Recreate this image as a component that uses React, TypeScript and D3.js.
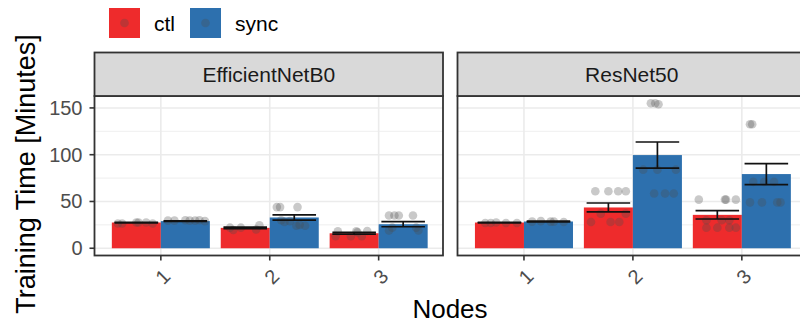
import React, { useEffect, useRef } from 'react';
import * as d3 from 'd3';

// categories
const nodes = ['1', '2', '3'];
const groups = ['ctl', 'sync'];
const panels = ['EfficientNetB0', 'ResNet50'];
const yTicks = [0, 50, 100, 150];
const yMinor = [25, 75, 125];

// bar means (minutes), per panel, per node
const effCtlMean = [27.5, 21.8, 16.0];
const effSyncMean = [29.0, 32.9, 25.7];
const resCtlMean = [27.5, 43.6, 35.7];
const resSyncMean = [28.6, 99.6, 79.3];

// standard errors
const effCtlSe = [0.3, 0.8, 0.9];
const effSyncSe = [0.4, 2.85, 2.7];
const resCtlSe = [0.3, 4.75, 4.45];
const resSyncSe = [0.4, 14.0, 11.2];

// individual runs: [node, minutes, jitter (fraction of band)]
type Pt = [string, number, number];
const effCtlPts: Pt[] = [
  ['1', 26.5, -0.17], ['1', 26.5, -0.13], ['1', 27.5, 0.0], ['1', 27.5, 0.02], ['1', 27.5, 0.09], ['1', 26.5, 0.15],
  ['2', 22, -0.14], ['2', 19.5, -0.11], ['2', 22, -0.04], ['2', 20, 0.1], ['2', 24.5, 0.13],
  ['3', 18, -0.15], ['3', 18, 0.02], ['3', 18.5, 0.12], ['3', 13, -0.17], ['3', 13, -0.03], ['3', 13, 0.07], ['3', 17, 0.03],
];
const effSyncPts: Pt[] = [
  ['1', 29.5, -0.16], ['1', 29.5, -0.1], ['1', 30, 0.0], ['1', 29.5, 0.04], ['1', 29.5, 0.09], ['1', 30, 0.13], ['1', 29, 0.18],
  ['2', 44, -0.16], ['2', 44, -0.13], ['2', 44, 0.03], ['2', 30, -0.12], ['2', 24, 0.02], ['2', 24, 0.1], ['2', 29, -0.04], ['2', 25, 0.05], ['2', 28, -0.09],
  ['3', 35, -0.13], ['3', 35, -0.08], ['3', 35, -0.04], ['3', 35, 0.09], ['3', 19, -0.13], ['3', 19, 0.14], ['3', 22, 0.12], ['3', 22, -0.1],
];
const resCtlPts: Pt[] = [
  ['1', 27, -0.13], ['1', 27, -0.08], ['1', 27, 0.06], ['1', 27, 0.16], ['1', 27.5, -0.03],
  ['2', 61, -0.12], ['2', 61, 0.0], ['2', 61, 0.09], ['2', 61, 0.16], ['2', 37, -0.07], ['2', 37, 0.16], ['2', 28, -0.16], ['2', 28, 0.02], ['2', 28, 0.1],
  ['3', 52, -0.17], ['3', 52, 0.07], ['3', 52, 0.08], ['3', 52, 0.17], ['3', 30, -0.1], ['3', 30, 0.04], ['3', 30, 0.11],
  ['3', 22, -0.1], ['3', 22, 0.0], ['3', 22, 0.11], ['3', 22, 0.17],
];
const resSyncPts: Pt[] = [
  ['1', 28.5, -0.15], ['1', 29, -0.07], ['1', 28.5, 0.02], ['1', 28.5, 0.05], ['1', 28, 0.14],
  ['2', 155, -0.06], ['2', 155, -0.02], ['2', 154, 0.01], ['2', 84, -0.13], ['2', 84, 0.0], ['2', 84, 0.17],
  ['2', 58.5, -0.03], ['2', 58.5, 0.07], ['2', 58.5, 0.15],
  ['3', 132.5, -0.15], ['3', 132.5, -0.13], ['3', 71, -0.12], ['3', 71, -0.02], ['3', 71, 0.07],
  ['3', 49, -0.15], ['3', 49, -0.04], ['3', 49, 0.1], ['3', 49, 0.13],
];

const panelMeans = [[effCtlMean, effSyncMean], [resCtlMean, resSyncMean]];
const panelSe = [[effCtlSe, effSyncSe], [resCtlSe, resSyncSe]];
const panelPts = [[effCtlPts, effSyncPts], [resCtlPts, resSyncPts]];

const COLORS = ['#EE2B2C', '#2D70AE'];
const FONT = '"Liberation Sans", Arial, sans-serif';

const App: React.FC = () => {
  const svgRef = useRef<SVGSVGElement>(null);

  useEffect(() => {
    if (!svgRef.current) return;
    const svg = d3.select(svgRef.current);
    svg.selectAll('*').remove();

    const W = 800;
    const H = 324;
    const panelTop = 96;
    const panelBottom = 255.5;
    const stripTop = 52.5;
    // panel borders and band ranges
    const panelBox = [[94.5, 443], [457.5, 806]];
    const bandRange = [[95.5, 444], [458.6, 807.2]];

    const y = d3.scaleLinear().domain([-7.75, 162.75]).range([panelBottom, panelTop]);
    const color = d3.scaleOrdinal<string, string>().domain(groups).range(COLORS);

    svg.attr('width', W).attr('height', H).style('font-family', FONT);

    // legend
    const legend = svg.append('g');
    const legendX = [109, 190];
    groups.forEach((g, i) => {
      legend.append('rect')
        .attr('x', legendX[i]).attr('y', 8).attr('width', 31).attr('height', 30)
        .attr('fill', color(g));
      legend.append('circle')
        .attr('cx', legendX[i] + 15.5).attr('cy', 23).attr('r', 4.3)
        .attr('fill', '#4D4D4D').attr('fill-opacity', 0.3);
      legend.append('text')
        .attr('x', legendX[i] + 45).attr('y', 23)
        .attr('dominant-baseline', 'central')
        .attr('font-size', 21).attr('fill', '#000')
        .text(g);
    });

    panels.forEach((name, p) => {
      const [bx0, bx1] = panelBox[p];
      const x = d3.scaleBand<string>().domain(nodes).range(bandRange[p] as [number, number])
        .paddingInner(0).paddingOuter(0.1);
      const step = x.step();
      const sub = d3.scaleBand<string>().domain(groups).range([-0.45 * step, 0.45 * step]);
      const cx = (n: string) => (x(n) as number) + x.bandwidth() / 2;
      const g = svg.append('g');

      // panel background and grid
      g.append('rect').attr('x', bx0).attr('y', panelTop).attr('width', bx1 - bx0)
        .attr('height', panelBottom - panelTop).attr('fill', '#fff');
      yMinor.forEach(v => {
        g.append('line').attr('x1', bx0).attr('x2', bx1).attr('y1', y(v)).attr('y2', y(v))
          .attr('stroke', '#EBEBEB').attr('stroke-width', 0.8);
      });
      yTicks.forEach(v => {
        g.append('line').attr('x1', bx0).attr('x2', bx1).attr('y1', y(v)).attr('y2', y(v))
          .attr('stroke', '#EBEBEB').attr('stroke-width', 1.6);
      });
      nodes.forEach(n => {
        g.append('line').attr('x1', cx(n)).attr('x2', cx(n)).attr('y1', panelTop).attr('y2', panelBottom)
          .attr('stroke', '#EBEBEB').attr('stroke-width', 1.6);
      });

      // bars
      groups.forEach((grp, gi) => {
        g.selectAll(`rect.bar-${grp}`)
          .data(nodes)
          .enter()
          .append('rect')
          .attr('x', n => cx(n) + (sub(grp) as number))
          .attr('width', sub.bandwidth())
          .attr('y', (n, i) => y(panelMeans[p][gi][i]))
          .attr('height', (n, i) => y(0) - y(panelMeans[p][gi][i]))
          .attr('fill', color(grp));
      });

      // points
      groups.forEach((grp, gi) => {
        g.selectAll(`circle.pt-${grp}`)
          .data(panelPts[p][gi])
          .enter()
          .append('circle')
          .attr('cx', d => cx(d[0]) + (sub(grp) as number) + sub.bandwidth() / 2 + d[2] * step)
          .attr('cy', d => y(d[1]))
          .attr('r', 4.3)
          .attr('fill', '#4D4D4D')
          .attr('fill-opacity', 0.3);
      });

      // error bars
      groups.forEach((grp, gi) => {
        nodes.forEach((n, i) => {
          const m = panelMeans[p][gi][i];
          const se = panelSe[p][gi][i];
          const c = cx(n) + (sub(grp) as number) + sub.bandwidth() / 2;
          const hw = 0.2 * step;
          const eg = g.append('g').attr('stroke', '#111').attr('stroke-width', 1.7);
          eg.append('line').attr('x1', c - hw).attr('x2', c + hw).attr('y1', y(m + se)).attr('y2', y(m + se));
          eg.append('line').attr('x1', c - hw).attr('x2', c + hw).attr('y1', y(m - se)).attr('y2', y(m - se));
          eg.append('line').attr('x1', c).attr('x2', c).attr('y1', y(m + se)).attr('y2', y(m - se));
        });
      });

      // border
      g.append('rect').attr('x', bx0).attr('y', panelTop).attr('width', bx1 - bx0)
        .attr('height', panelBottom - panelTop).attr('fill', 'none')
        .attr('stroke', '#333333').attr('stroke-width', 1.8);

      // strip
      g.append('rect').attr('x', bx0).attr('y', stripTop).attr('width', bx1 - bx0)
        .attr('height', panelTop - stripTop).attr('fill', '#D9D9D9')
        .attr('stroke', '#333333').attr('stroke-width', 1.8);
      g.append('text')
        .attr('x', (bx0 + bx1) / 2).attr('y', (stripTop + panelTop) / 2)
        .attr('text-anchor', 'middle').attr('dominant-baseline', 'central')
        .attr('font-size', 21).attr('fill', '#1A1A1A')
        .text(name);

      // x axis ticks and labels
      nodes.forEach(n => {
        g.append('line').attr('x1', cx(n)).attr('x2', cx(n))
          .attr('y1', panelBottom).attr('y2', panelBottom + 5)
          .attr('stroke', '#333333').attr('stroke-width', 1.6);
        g.append('text')
          .attr('transform', `translate(${cx(n) + 2},${panelBottom + 21}) rotate(-45)`)
          .attr('text-anchor', 'middle').attr('dominant-baseline', 'central')
          .attr('font-size', 20).attr('fill', '#4D4D4D')
          .text(n);
      });

      // y axis on first panel only
      if (p === 0) {
        yTicks.forEach(v => {
          g.append('line').attr('x1', bx0 - 5).attr('x2', bx0)
            .attr('y1', y(v)).attr('y2', y(v))
            .attr('stroke', '#333333').attr('stroke-width', 1.6);
          g.append('text')
            .attr('x', bx0 - 12).attr('y', y(v))
            .attr('text-anchor', 'end').attr('dominant-baseline', 'central')
            .attr('font-size', 20).attr('fill', '#4D4D4D')
            .text(v);
        });
      }
    });

    // axis titles
    svg.append('text')
      .attr('transform', `translate(26,${174}) rotate(-90)`)
      .attr('text-anchor', 'middle').attr('dominant-baseline', 'central')
      .attr('font-size', 27).attr('fill', '#000')
      .text('Training Time [Minutes]');
    svg.append('text')
      .attr('x', 450).attr('y', 318)
      .attr('text-anchor', 'middle')
      .attr('font-size', 26).attr('fill', '#000')
      .text('Nodes');
  }, []);

  return (
    <div style={{ position: 'fixed', left: 0, top: 0, width: 800, height: 324, background: '#fff' }}>
      <svg ref={svgRef} style={{ display: 'block' }} />
    </div>
  );
};

export default App;
